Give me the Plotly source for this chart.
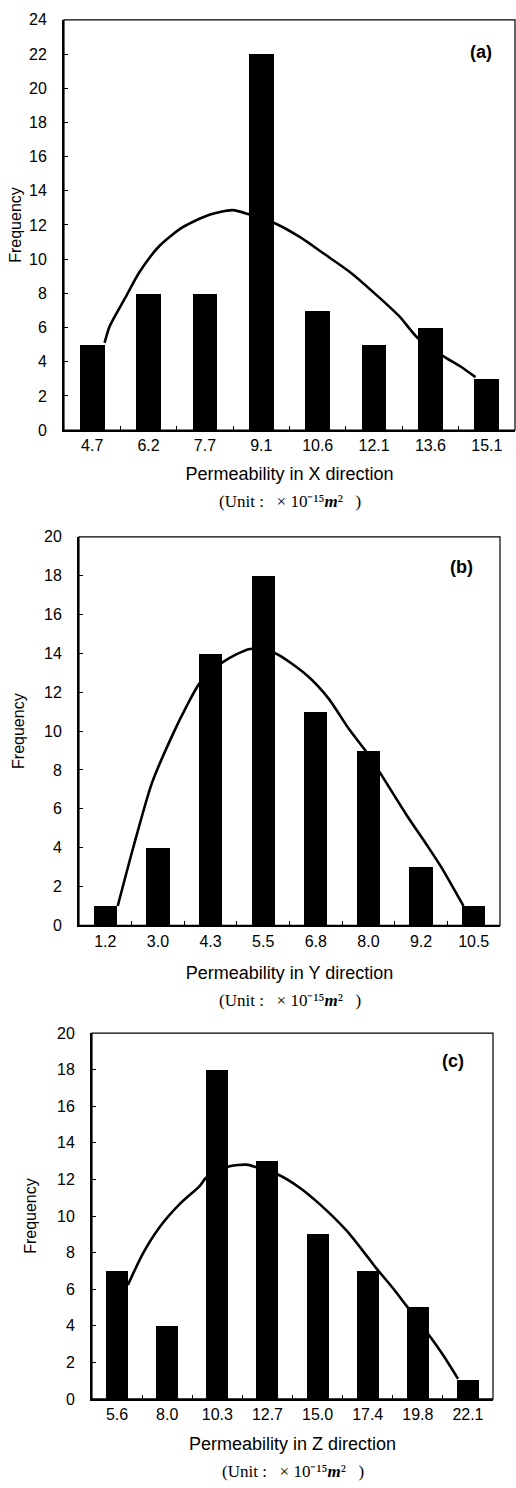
import plotly.graph_objects as go

W, H = 516, 1488

# ---------------- data ----------------
labels_x = ["4.7", "6.2", "7.7", "9.1", "10.6", "12.1", "13.6", "15.1"]
freq_x = [5, 8, 8, 22, 7, 5, 6, 3]
fit_pos_x = [0.22, 0.31, 0.58, 0.84, 1.20, 1.60, 2.08, 2.49, 2.80, 3.24, 3.68,
             4.12, 4.57, 5.01, 5.45, 5.77, 6.24, 6.52, 6.80]
fit_freq_x = [5.1, 6.07, 7.7, 9.25, 10.8, 11.86, 12.6, 12.87, 12.6, 12.1, 11.3,
              10.3, 9.25, 8.0, 6.65, 5.4, 4.3, 3.75, 3.1]

labels_y = ["1.2", "3.0", "4.3", "5.5", "6.8", "8.0", "9.2", "10.5"]
freq_y = [1, 4, 14, 18, 11, 9, 3, 1]
fit_pos_y = [0.236, 0.527, 0.882, 1.293, 1.548, 1.800, 2.232, 2.751, 3.226,
             3.829, 4.240, 4.637, 4.970, 5.222, 5.730, 6.110, 6.395, 6.806]
fit_freq_y = [1.0, 3.97, 7.3, 9.9, 11.3, 12.5, 13.55, 14.23, 14.01,
              12.88, 11.69, 10.08, 8.9, 7.85, 5.66, 4.14, 2.95, 1.0]

labels_z = ["5.6", "8.0", "10.3", "12.7", "15.0", "17.4", "19.8", "22.1"]
freq_z = [7, 4, 18, 13, 9, 7, 5, 1]
fit_pos_z = [0.216, 0.515, 0.848, 1.248, 1.647, 1.780, 2.246, 2.579, 2.778, 3.210,
             3.643, 4.042, 4.575, 4.974, 5.174, 5.505, 5.772, 6.192, 6.503, 6.802]
fit_freq_z = [6.23, 7.95, 9.39, 10.65, 11.64, 12.1, 12.72, 12.81, 12.67, 12.27,
              11.55, 10.65, 9.21, 7.85, 7.14, 6.05, 5.1, 3.6, 2.4, 1.10]

panel_tags = ["(a)", "(b)", "(c)"]
x_titles = ["Permeability in X direction", "Permeability in Y direction",
            "Permeability in Z direction"]
y_title = "Frequency"
NB = "\u00a0"
unit_text = "(Unit" + NB + ":" + NB * 3 + "×" + NB + "10⁻¹⁵<b><i>m</i></b>²" + NB * 3 + ")"
y_max = [24, 20, 20]

# ---------------- layout geometry (pixels) ----------------
panels = [
    dict(l=64, r=515, t=12, b=427, xs=14, ys=3, unit_y=499, tag=(481, 45)),
    dict(l=79, r=500, t=535, b=928, xs=18, ys=15, unit_y=1004, tag=(461, 565)),
    dict(l=92, r=493, t=1037, b=1407, xs=15, ys=16, unit_y=1480, tag=(453, 1065)),
]

def px(x):
    return x / W

def py(y):
    return 1 - y / H

data_sets = [
    (labels_x, freq_x, fit_pos_x, fit_freq_x),
    (labels_y, freq_y, fit_pos_y, fit_freq_y),
    (labels_z, freq_z, fit_pos_z, fit_freq_z),
]

fig = go.Figure()
annotations = []
shapes = []
FONT = "Liberation Sans, Arial, sans-serif"
SERIF = "Liberation Serif, Times New Roman, serif"

for i, ((labs, freq, fpos, ffreq), p) in enumerate(zip(data_sets, panels)):
    n = "" if i == 0 else str(i + 1)
    xa, ya = "x" + n, "y" + n
    idx = list(range(len(labs)))
    fig.add_trace(go.Scatter(x=fpos, y=ffreq, mode="lines",
                             line=dict(color="black", width=2.6, shape="spline", smoothing=0.7),
                             xaxis=xa, yaxis=ya, showlegend=False))
    fig.add_trace(go.Bar(x=idx, y=freq, width=0.44, marker=dict(color="black", line=dict(width=0)),
                         xaxis=xa, yaxis=ya, showlegend=False))
    fig.layout["xaxis" + n] = dict(
        domain=[px(p["l"]), px(p["r"])], anchor=ya, range=[-0.5, 7.5],
        tickmode="array", tickvals=idx, ticktext=labs, ticks="",
        showline=True, linecolor="black", linewidth=2, showgrid=False, zeroline=False,
        tickfont=dict(family=FONT, size=16, color="black"),
        title=dict(text=x_titles[i], standoff=p["xs"], font=dict(family=FONT, size=18, color="black")),
        minor=dict(tickmode="array", tickvals=[k + 0.5 for k in idx[:-1]], ticks="inside",
                   ticklen=4, tickwidth=1, tickcolor="black", showgrid=False),
        fixedrange=True,
    )
    fig.layout["yaxis" + n] = dict(
        domain=[py(p["b"]), py(p["t"])], anchor=xa, range=[0, y_max[i]],
        tickmode="linear", tick0=0, dtick=2, ticks="inside", ticklen=4, tickwidth=1, tickcolor="black",
        showline=True, linecolor="black", linewidth=2, showgrid=False, zeroline=False,
        tickfont=dict(family=FONT, size=16, color="black"), ticklabelstandoff=12,
        title=dict(text=y_title, standoff=p["ys"], font=dict(family=FONT, size=16, color="black")),
        fixedrange=True,
    )
    shapes.append(dict(type="rect", xref=xa + " domain", yref=ya + " domain", x0=0, x1=1, y0=0, y1=1,
                       line=dict(color="black", width=1.2), layer="above"))
    cx = px((p["l"] + p["r"]) / 2)
    annotations.append(dict(text=unit_text,
                            xref="paper", yref="paper", x=cx, y=py(p["unit_y"]),
                            xanchor="center", yanchor="middle", showarrow=False,
                            font=dict(family=SERIF, size=17, color="black")))
    annotations.append(dict(text="<b>" + panel_tags[i] + "</b>", xref="paper", yref="paper",
                            x=px(p["tag"][0]), y=py(p["tag"][1]),
                            xanchor="center", yanchor="middle", showarrow=False,
                            font=dict(family=FONT, size=18, color="black")))

fig.update_layout(
    width=W, height=H, margin=dict(l=0, r=0, t=0, b=0),
    paper_bgcolor="white", plot_bgcolor="white",
    annotations=annotations, shapes=shapes, bargap=0,
)

fig.write_html("out.html", config={"displayModeBar": False},
               post_script="document.body.style.margin='0';")
